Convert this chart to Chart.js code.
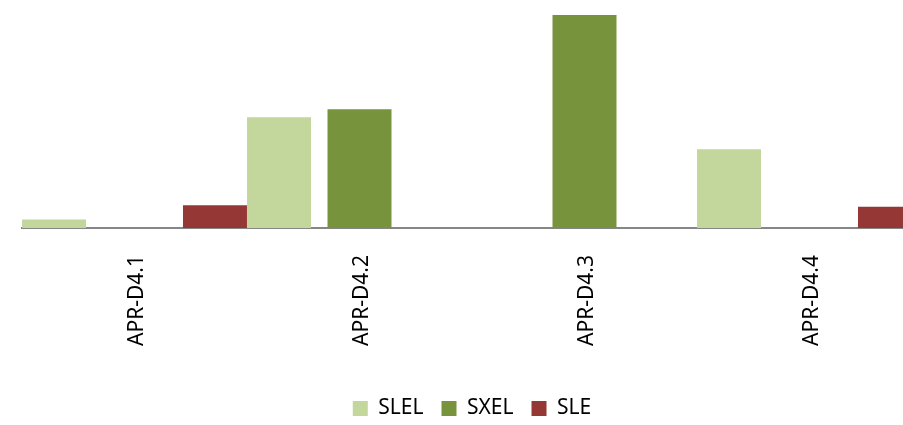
<!DOCTYPE html>
<html>
<head>
<meta charset="utf-8">
<title>APR-D4 — SLEL / SXEL / SLE</title>
<script src="https://cdn.jsdelivr.net/npm/chart.js@4.4.1/dist/chart.umd.min.js"></script>
<style>
  html, body { margin: 0; padding: 0; background: #fff; overflow: hidden; }
  #wrap { width: 925px; height: 425px; }
</style>
</head>
<body>
<div id="wrap"><canvas id="apr-chart" width="925" height="425"></canvas></div>
<script>
// ── DATOS ─────────────────────────────────────────────
var categorias = ['APR-D4.1', 'APR-D4.2', 'APR-D4.3', 'APR-D4.4'];
var serieSLEL  = [0.40, 5.20, 0, 3.70];
var serieSXEL  = [0, 5.58, 10.0, 0];
var serieSLE   = [1.07, 0, 0, 1.00];

(function () {
  'use strict';

  var FONT = "'Noto Sans', 'DejaVu Sans', sans-serif";

  var colores = {
    slel: '#C3D69B',
    sxel: '#77933C',
    sle:  '#953735'
  };

  function serie(label, data, color) {
    return {
      label: label,
      data: data,
      backgroundColor: color,
      borderWidth: 0,
      // barras juntas entre categorías, con hueco dentro de cada grupo
      categoryPercentage: 1.073,
      barPercentage: 0.795
    };
  }

  new Chart(document.getElementById('apr-chart').getContext('2d'), {
    type: 'bar',
    data: {
      labels: categorias,
      datasets: [
        serie('SLEL', serieSLEL, colores.slel),
        serie('SXEL', serieSXEL, colores.sxel),
        serie('SLE',  serieSLE,  colores.sle)
      ]
    },
    options: {
      responsive: false,
      animation: false,
      layout: { padding: { top: 15, left: 22, right: 3, bottom: -4 } },
      plugins: {
        tooltip: { enabled: false },
        legend: {
          position: 'bottom',
          labels: {
            color: '#000',
            font: { family: FONT, size: 21 },
            boxWidth: 15,
            boxHeight: 15,
            padding: 18
          }
        }
      },
      scales: {
        x: {
          z: 1,
          grid: { display: false, drawTicks: false },
          border: { display: true, color: '#868686', width: 2 },
          ticks: {
            color: '#000',
            font: { family: FONT, size: 21 },
            minRotation: 90,
            maxRotation: 90,
            padding: 27,
            labelOffset: 3,
            autoSkip: false
          },
          afterFit: function (scale) { scale.height = 152; }
        },
        y: {
          display: false,
          min: 0,
          max: 10
        }
      }
    }
  });
})();
</script>
</body>
</html>
